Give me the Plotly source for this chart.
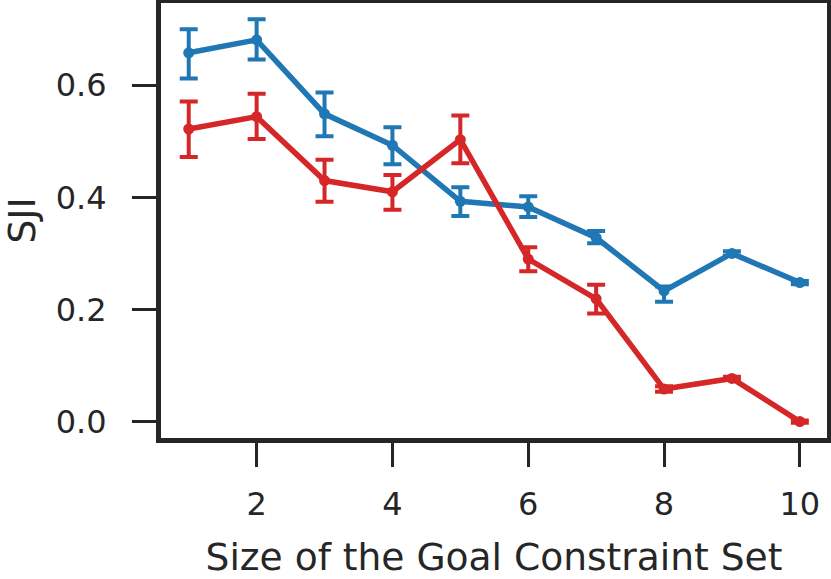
import plotly.graph_objects as go

sizes = [1, 2, 3, 4, 5, 6, 7, 8, 9, 10]

blue_mean = [0.658, 0.681, 0.549, 0.493, 0.393, 0.383, 0.328, 0.233, 0.300, 0.248]
blue_upper = [0.700, 0.718, 0.587, 0.525, 0.418, 0.402, 0.340, 0.241, 0.304, 0.251]
blue_lower = [0.612, 0.646, 0.509, 0.459, 0.367, 0.365, 0.318, 0.214, 0.296, 0.245]

red_mean = [0.522, 0.544, 0.430, 0.410, 0.503, 0.290, 0.219, 0.058, 0.077, 0.000]
red_upper = [0.571, 0.585, 0.467, 0.440, 0.546, 0.311, 0.244, 0.063, 0.080, 0.002]
red_lower = [0.472, 0.504, 0.392, 0.378, 0.461, 0.268, 0.193, 0.053, 0.074, -0.002]

y_ticks = [0.0, 0.2, 0.4, 0.6]
x_ticks = [2, 4, 6, 8, 10]

BLUE = "#1f77b4"
RED = "#d62728"
INK = "#262626"


def add_series(fig, mean, upper, lower, color):
    fig.add_trace(go.Scatter(
        x=sizes, y=mean, mode="lines+markers",
        line=dict(color=color, width=5.5),
        marker=dict(color=color, size=11),
        error_y=dict(
            type="data", symmetric=False,
            array=[u - m for u, m in zip(upper, mean)],
            arrayminus=[m - l for m, l in zip(mean, lower)],
            color=color, thickness=4, width=9,
        ),
        showlegend=False,
        cliponaxis=False,
    ))


fig = go.Figure()
add_series(fig, blue_mean, blue_upper, blue_lower, BLUE)
add_series(fig, red_mean, red_upper, red_lower, RED)

axis_common = dict(
    showgrid=False, zeroline=False, automargin=False,
    showline=True, linecolor=INK, linewidth=5, mirror=True,
    ticks="outside", ticklen=24, tickwidth=3, tickcolor=INK,
    tickfont=dict(family="DejaVu Sans", size=32, color=INK),
)

fig.update_xaxes(
    range=[0.5916, 10.40], tickvals=x_ticks, ticklabelstandoff=10,
    title=dict(text="Size of the Goal Constraint Set",
               font=dict(family="DejaVu Sans", size=37.6, color=INK), standoff=30),
    **axis_common,
)
fig.update_yaxes(
    range=[-0.0293, 0.7468], tickvals=y_ticks, tickformat=".1f", ticklabelstandoff=19,
    title=dict(text="SJI",
               font=dict(family="DejaVu Sans", size=37.6, color=INK), standoff=21),
    **axis_common,
)

fig.update_layout(
    width=831, height=579,
    margin=dict(l=161, r=3.5, t=3, b=141),
    paper_bgcolor="white", plot_bgcolor="white",
)

fig.write_html("out.html", config={"displayModeBar": False},
               post_script="document.body.style.margin='0';document.body.style.overflow='hidden';")
